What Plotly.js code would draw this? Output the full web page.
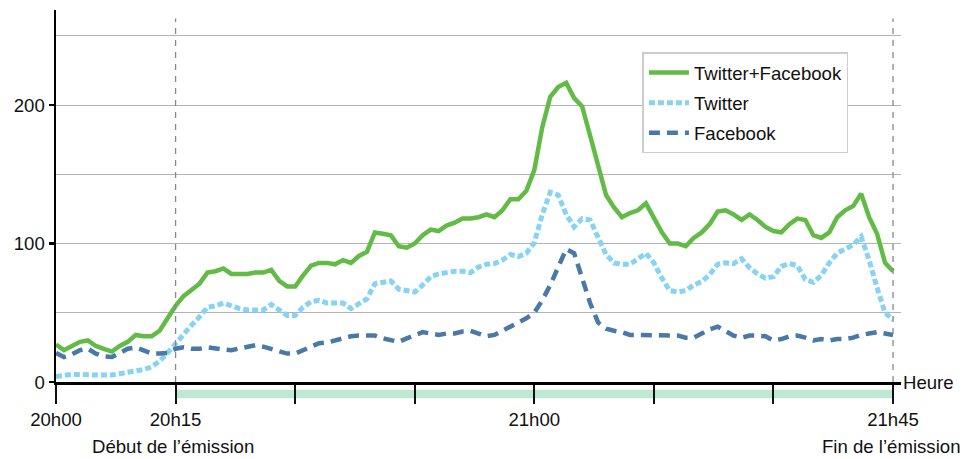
<!DOCTYPE html>
<html>
<head>
<meta charset="utf-8">
<script src="https://cdn.plot.ly/plotly-3.0.1.min.js"></script>
<style>html,body{margin:0;padding:0;background:#fff;}#chart{width:967px;height:459px;}</style>
</head>
<body>
<div id="chart"></div>
<script>
// minutes after 20h00
var minutes = [];
for (var m = 0; m <= 105; m++) minutes.push(m);

var totalValues = [27,23,26,29,30,26,24,22,26,29,34,33,33,37,46,55,62,67,71,79,80,82,78,78,78,79,79,81,73,69,
  69,77,84,86,86,85,88,86,91,94,108,107,106,98,97,100,106,110,109,113,115,118,118,119,121,119,124,132,132,138,
  153,184,206,213,216,205,199,178,156,135,126,119,122,124,129,118,108,100,100,98,104,108,114,123,124,121,117,121,117,112,
  109,108,114,118,117,106,104,108,119,124,127,136,119,107,86,80];

var twitterValues = [4,5,5.5,5.5,5,5,5,5,6,7,8,9,11,15,21,28,35,41,47,54,55,57,55,53,52,52,52,56,52,48,
  48,54,58,59,57,57,57,53,56.5,60,71,72,73,67,66,65,70,76,78,79,80,80,79,83,85,85.5,88,92,90.5,93,
  100.5,121,137,135,121,112,118,117,103.5,92,86,85,85,89,93,86,75,66,65,66,70,72.5,77.5,85,86,85.5,89,82.5,78,75,
  76,83.5,85.5,84,74,72,77,86,93,96,99,105,88,68,50,45];

var facebookValues = [21,18,20,23,24,20.5,18.5,18,21,24,25,23,20.5,20.5,21,24,25,24,24,25,24,23.5,23,24,25.5,26.5,25.5,24,22,20.5,
  20.5,23,25.5,28,28.5,30,31.5,33,33.5,33.5,33.5,31.5,30,29,31.5,33.5,36,35,34,35,35,36.5,37,35,33,34,37,40,43,46,
  50,59,70,83,96,93,76,57,43,38.5,37,36,34,34,34,34,33.5,33.5,33.5,32,32,35,38,40,36.5,33.5,32,33.5,33.5,33,
  30,31,33,33.5,32,30,31,30,31,31,32,34,35,36,35,34];

var tickMinutes = [0,15,30,45,60,75,90,105];
var tickLabels = ['20h00','20h15','','','21h00','','','21h45'];
var yTickValues = [0,100,200];
var yTickLabels = ['0','100','200'];
var seriesNames = ['Twitter+Facebook','Twitter','Facebook'];

var FONT = 'Liberation Sans, Arial, Helvetica, sans-serif';
var FS = 18.6;

var traces = [
  {x: minutes, y: totalValues, name: seriesNames[0], legendgroup: 'a', mode: 'lines', type: 'scatter',
   line: {color: '#62bb46', width: 4.5}},
  {x: minutes, y: twitterValues, name: seriesNames[1], legendgroup: 'b', mode: 'lines', type: 'scatter',
   line: {color: '#87d3f3', width: 5, dash: '6px,3px'}},
  {x: minutes, y: facebookValues, name: seriesNames[2], legendgroup: 'c', mode: 'lines', type: 'scatter',
   line: {color: '#4a79a8', width: 4.5, dash: '11px,7px'}}
];

var layout = {
  width: 967, height: 459,
  margin: {l: 56, r: 66, t: 10, b: 77, pad: 0},
  paper_bgcolor: '#fff', plot_bgcolor: '#fff',
  font: {family: FONT, size: FS, color: '#111'},
  showlegend: true,
  legend: {x: 0.694, y: 0.886, xanchor: 'left', yanchor: 'top',
    bgcolor: '#fff', bordercolor: '#cccccc', borderwidth: 1.5,
    font: {family: FONT, size: FS, color: '#111'}, tracegroupgap: 3, itemwidth: 40},
  xaxis: {range: [0, 106], showline: true, linecolor: '#000', linewidth: 2.5,
    showgrid: false, zeroline: false, tickmode: 'array', tickvals: tickMinutes, ticktext: tickLabels,
    ticks: 'outside', ticklen: 19, tickwidth: 2, tickcolor: '#111',
    tickfont: {family: FONT, size: FS, color: '#111'}, fixedrange: true},
  yaxis: {range: [0, 268.6], showline: true, linecolor: '#000', linewidth: 2.5,
    showgrid: true, gridcolor: '#b4b4b4', gridwidth: 1, zeroline: false,
    tickmode: 'array', tickvals: yTickValues, ticktext: yTickLabels,
    ticks: 'outside', ticklen: 5, tickwidth: 2.5, tickcolor: '#000',
    minor: {tickmode: 'linear', dtick: 50, tick0: 0, showgrid: true, gridcolor: '#b4b4b4', gridwidth: 1, ticks: ''},
    tickfont: {family: FONT, size: FS, color: '#111'}, fixedrange: true},
  shapes: [
    {type: 'rect', xref: 'x', yref: 'paper', x0: 15, x1: 105, y0: -0.044, y1: -0.021,
     fillcolor: '#bfe8d3', line: {width: 0}, layer: 'below'},
    {type: 'line', xref: 'x', yref: 'paper', x0: 15, x1: 15, y0: 0, y1: 0.977,
     line: {color: '#888', width: 1.3, dash: '6px,6px'}},
    {type: 'line', xref: 'x', yref: 'paper', x0: 105, x1: 105, y0: 0, y1: 0.977,
     line: {color: '#888', width: 1.3, dash: '6px,6px'}}
  ],
  annotations: [
    {text: 'Heure', xref: 'paper', yref: 'y', x: 1, y: 0, xanchor: 'left', yanchor: 'middle',
     xshift: 0, showarrow: false, font: {family: FONT, size: FS, color: '#111'}},
    {text: 'Début de l’émission', xref: 'x', yref: 'paper', x: 15, y: -0.1734, xanchor: 'center', yanchor: 'middle',
     xshift: -3, showarrow: false, font: {family: FONT, size: FS, color: '#111'}},
    {text: 'Fin de l’émission', xref: 'x', yref: 'paper', x: 105, y: -0.1734, xanchor: 'center', yanchor: 'middle',
     xshift: -2, showarrow: false, font: {family: FONT, size: FS, color: '#111'}}
  ]
};

Plotly.newPlot('chart', traces, layout, {displayModeBar: false, staticPlot: true});
</script>
</body>
</html>
